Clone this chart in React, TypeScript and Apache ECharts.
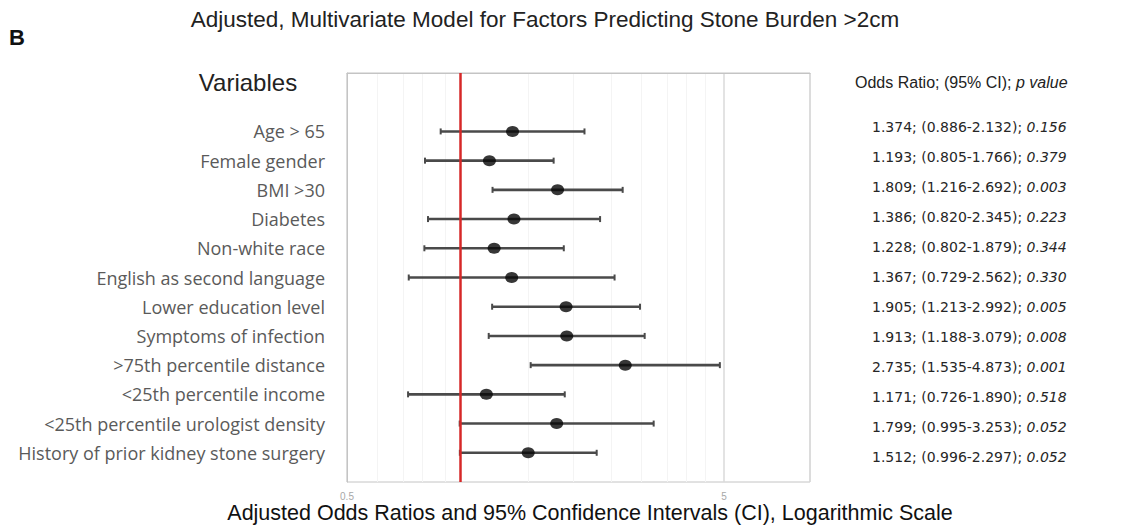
import React, { useEffect, useRef } from "react";
import * as echarts from "echarts";

const VARIABLES = [
  "Age > 65",
  "Female gender",
  "BMI >30",
  "Diabetes",
  "Non-white race",
  "English as second language",
  "Lower education level",
  "Symptoms of infection",
  ">75th percentile distance",
  "<25th percentile income",
  "<25th percentile urologist density",
  "History of prior kidney stone surgery",
];
const ODDS_RATIO = [1.374, 1.193, 1.809, 1.386, 1.228, 1.367, 1.905, 1.913, 2.735, 1.171, 1.799, 1.512];
const CI_LOWER = [0.886, 0.805, 1.216, 0.82, 0.802, 0.729, 1.213, 1.188, 1.535, 0.726, 0.995, 0.996];
const CI_UPPER = [2.132, 1.766, 2.692, 2.345, 1.879, 2.562, 2.992, 3.079, 4.873, 1.89, 3.253, 2.297];
const P_VALUES = ["0.156", "0.379", "0.003", "0.223", "0.344", "0.330", "0.005", "0.008", "0.001", "0.518", "0.052", "0.052"];
const X_MIN = 0.5;
const X_MAX = 8.45;
const REFERENCE_OR = 1;
const MINOR_GRID = [0.6, 0.7, 0.8, 0.9, 1.5, 2, 2.5, 3, 3.5, 4, 4.5];

const ROW_OFFSET = 2; // first row sits two slots below the top of the frame
const Y_SLOTS = 14;

const toX = (v: number) => Math.log10(v / X_MIN);

export default function App() {
  const ref = useRef<HTMLDivElement>(null);

  useEffect(() => {
    document.body.style.margin = "0";
    const chart = echarts.init(ref.current!, null, { renderer: "svg" });

    const rowLabel = (v: number) => {
      const i = Math.round(v) - ROW_OFFSET;
      return i >= 0 && i < VARIABLES.length ? VARIABLES[i] : "";
    };
    const statLabel = (v: number) => {
      const i = Math.round(v) - ROW_OFFSET;
      if (i < 0 || i >= VARIABLES.length) return "";
      return `{n|${ODDS_RATIO[i].toFixed(3)}; (${CI_LOWER[i].toFixed(3)}-${CI_UPPER[i].toFixed(3)}); }{p|${P_VALUES[i]}}`;
    };

    const yBase = {
      type: "value",
      min: 0,
      max: Y_SLOTS,
      interval: 1,
      inverse: true,
      splitLine: { show: false },
      axisTick: { show: false },
    };

    const option: any = {
      animation: false,
      backgroundColor: "#ffffff",
      grid: [
        {
          left: 347,
          right: 322,
          top: 73,
          bottom: 49,
          show: true,
          borderColor: "#c4c4c4",
          borderWidth: 1,
        },
        {
          // table column on the right uses a slightly taller row pitch
          left: 347,
          right: 322,
          top: 66.5,
          bottom: 44.5,
          show: false,
        },
      ],
      xAxis: [
        {
          type: "value",
          gridIndex: 0,
          min: 0,
          max: toX(X_MAX),
          interval: 1,
          axisLine: { show: true, lineStyle: { color: "#c4c4c4" } },
          axisTick: { show: false },
          axisLabel: {
            showMaxLabel: false,
            color: "#a8a8a8",
            fontSize: 10,
            fontFamily: "Liberation Sans",
            margin: 9,
            formatter: (v: number) =>
              Math.abs(v - Math.round(v)) < 1e-9 ? String(+(X_MIN * Math.pow(10, v)).toPrecision(3)) : "",
          },
          splitLine: { show: true, lineStyle: { color: "#dadada", width: 1.5 } },
        },
        { type: "value", gridIndex: 1, min: 0, max: 1, show: false },
      ],
      yAxis: [
        {
          ...yBase,
          gridIndex: 0,
          position: "left",
          axisLine: { show: true, lineStyle: { color: "#c4c4c4", width: 1 } },
          axisLabel: {
            formatter: rowLabel,
            fontFamily: "Open Sans",
            fontSize: 18,
            color: "#5a5a5a",
            margin: 22,
          },
        },
        {
          ...yBase,
          gridIndex: 1,
          position: "right",
          axisLine: { show: false },
          axisLabel: {
            formatter: statLabel,
            margin: 62,
            rich: {
              n: { fontFamily: "DejaVu Sans", fontSize: 14, color: "#262626" },
              p: { fontFamily: "DejaVu Sans", fontSize: 14, fontStyle: "italic", color: "#262626" },
            },
          },
        },
      ],
      series: [
        {
          type: "line",
          xAxisIndex: 0,
          yAxisIndex: 0,
          data: [],
          silent: true,
          z: 0,
          markLine: {
            silent: true,
            z: 0,
            symbol: "none",
            label: { show: false },
            lineStyle: { color: "#f4f4f4", width: 1, type: "solid" },
            data: MINOR_GRID.map((v) => ({ xAxis: toX(v) })),
          },
        },
        {
          type: "custom",
          xAxisIndex: 0,
          yAxisIndex: 0,
          z: 3,
          data: VARIABLES.map((_, i) => [toX(CI_LOWER[i]), toX(CI_UPPER[i]), i + ROW_OFFSET]),
          encode: { x: [0, 1], y: 2 },
          renderItem: (params: any, api: any) => {
            const lo = api.coord([api.value(0), api.value(2)]);
            const hi = api.coord([api.value(1), api.value(2)]);
            const cap = 3;
            const stroke = "#4a4a4a";
            return {
              type: "group",
              children: [
                { type: "line", shape: { x1: lo[0], y1: lo[1], x2: hi[0], y2: hi[1] }, style: { stroke, lineWidth: 2.6 } },
                { type: "line", shape: { x1: lo[0], y1: lo[1] - cap, x2: lo[0], y2: lo[1] + cap }, style: { stroke, lineWidth: 2 } },
                { type: "line", shape: { x1: hi[0], y1: hi[1] - cap, x2: hi[0], y2: hi[1] + cap }, style: { stroke, lineWidth: 2 } },
              ],
            };
          },
        },
        {
          type: "scatter",
          xAxisIndex: 0,
          yAxisIndex: 0,
          z: 4,
          symbol: "circle",
          symbolSize: [13, 11],
          itemStyle: { color: "#050505" },
          data: VARIABLES.map((_, i) => [toX(ODDS_RATIO[i]), i + ROW_OFFSET]),
          markLine: {
            silent: true,
            symbol: "none",
            label: { show: false },
            lineStyle: { color: "#d62828", width: 2.5, type: "solid" },
            data: [{ xAxis: toX(REFERENCE_OR) }],
          },
        },
      ],
      graphic: [
        {
          type: "text",
          x: 9,
          y: 37,
          style: { text: "B", fontFamily: "Liberation Sans", fontWeight: "bold", fontSize: 22, fill: "#111", verticalAlign: "middle" },
        },
        {
          type: "text",
          x: 545,
          y: 19,
          style: {
            text: "Adjusted, Multivariate Model for Factors Predicting Stone Burden >2cm",
            fontFamily: "Liberation Sans",
            fontSize: 22.5,
            fill: "#222",
            align: "center",
            verticalAlign: "middle",
          },
        },
        {
          type: "text",
          x: 248,
          y: 82,
          style: { text: "Variables", fontFamily: "Liberation Sans", fontSize: 24, fill: "#222", align: "center", verticalAlign: "middle" },
        },
        {
          type: "text",
          x: 855,
          y: 82,
          style: {
            text: "{a|Odds Ratio; (95% CI); }{b|p value}",
            verticalAlign: "middle",
            rich: {
              a: { fontFamily: "Liberation Sans", fontSize: 16, fill: "#222", color: "#222" },
              b: { fontFamily: "Liberation Sans", fontSize: 16, fontStyle: "italic", fill: "#222", color: "#222" },
            },
          },
        },
        {
          type: "text",
          x: 590,
          y: 513,
          style: {
            text: "Adjusted Odds Ratios and 95% Confidence Intervals (CI), Logarithmic Scale",
            fontFamily: "Liberation Sans",
            fontSize: 21.5,
            fill: "#111",
            align: "center",
            verticalAlign: "middle",
          },
        },
      ],
    };

    chart.setOption(option);
    return () => chart.dispose();
  }, []);

  return <div ref={ref} style={{ width: 1132, height: 531 }} />;
}
